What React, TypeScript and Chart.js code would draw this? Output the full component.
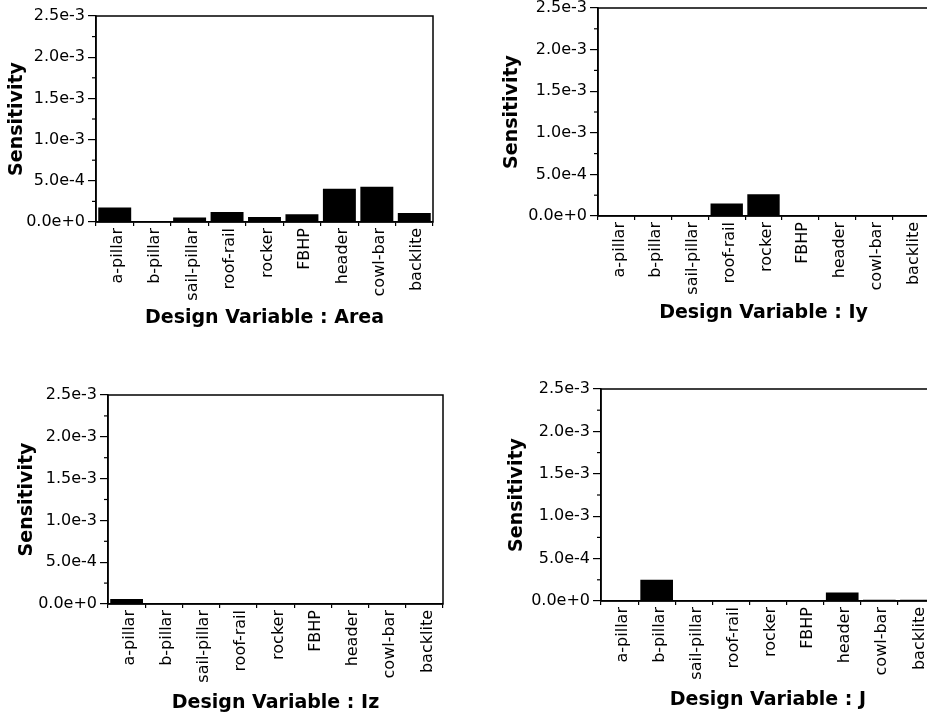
import React, { useEffect, useRef } from 'react';
import { Chart, registerables } from 'chart.js';

Chart.register(...registerables);

// ---- data ----
const categories = ['a-pillar', 'b-pillar', 'sail-pillar', 'roof-rail', 'rocker', 'FBHP', 'header', 'cowl-bar', 'backlite'];
const areaValues = [1.77e-4, 5e-6, 5.5e-5, 1.21e-4, 6.2e-5, 9.3e-5, 4.05e-4, 4.27e-4, 1.1e-4];
const iyValues = [0, 3e-6, 3e-6, 1.5e-4, 2.6e-4, 1e-5, 1e-5, 1e-5, 1.2e-5];
const izValues = [6e-5, 1e-5, 4e-6, 1e-5, 1.2e-5, 5e-6, 5e-6, 5e-6, 6e-6];
const jValues = [0, 2.5e-4, 4e-6, 4e-6, 1e-5, 6e-6, 1e-4, 1.5e-5, 1.5e-5];
const yMax = 2.5e-3;
const yStep = 5e-4;
const yMinorTicks = [2.5e-4, 7.5e-4, 1.25e-3, 1.75e-3, 2.25e-3];
const yTitle = 'Sensitivity';

const FONT = 'DejaVu Sans';
const TITLE_SIZE = 19;
const TICK_SIZE = 16;

type PanelCfg = {
  title: string;
  values: number[];
  L: number; T: number; R: number; B: number;
  yTitleX: number; xTitleY: number;
};

const panels: PanelCfg[] = [
  { title: 'Design Variable : Area', values: areaValues, L: 96, T: 16, R: 433, B: 222, yTitleX: 17, xTitleY: 318 },
  { title: 'Design Variable : Iy', values: iyValues, L: 598, T: 8, R: 929, B: 216, yTitleX: 512, xTitleY: 313 },
  { title: 'Design Variable : Iz', values: izValues, L: 108, T: 395, R: 443, B: 604, yTitleX: 27, xTitleY: 703 },
  { title: 'Design Variable : J', values: jValues, L: 601, T: 389, R: 935, B: 601, yTitleX: 517, xTitleY: 700 },
];

const framePlugin = {
  id: 'frame',
  afterDraw(chart: any) {
    const { ctx, chartArea: a, scales } = chart;
    ctx.save();
    ctx.strokeStyle = '#000';
    ctx.lineWidth = 1.5;
    ctx.strokeRect(a.left, a.top, a.right - a.left, a.bottom - a.top);
    const y = scales.y;
    ctx.lineWidth = 1.2;
    for (const v of yMinorTicks) {
      const py = y.getPixelForValue(v);
      ctx.beginPath();
      ctx.moveTo(a.left - 4, py);
      ctx.lineTo(a.left, py);
      ctx.stroke();
    }
    ctx.restore();
  },
};

function Panel({ p }: { p: PanelCfg }) {
  const ref = useRef<HTMLCanvasElement>(null);
  const half = (TITLE_SIZE * 1.2) / 2;
  const cx = p.L - 110;
  const cy = p.T - 30;
  const W = p.R + 30 - cx;
  const H = p.B + 140 - cy;
  const padLeft = p.yTitleX - half - cx;
  const yAxisW = p.L - cx - padLeft;
  const xAxisH = p.xTitleY + half - p.B;
  const padBottom = cy + H - (p.B + xAxisH);

  useEffect(() => {
    if (!ref.current) return;
    const chart = new Chart(ref.current, {
      type: 'bar',
      data: {
        labels: categories,
        datasets: [
          {
            data: p.values,
            backgroundColor: '#000',
            borderWidth: 0,
            barPercentage: 0.88,
            categoryPercentage: 1,
          },
        ],
      },
      options: {
        responsive: false,
        animation: false,
        devicePixelRatio: 1,
        layout: { padding: { left: padLeft, top: 30, right: 30, bottom: padBottom } },
        plugins: { legend: { display: false }, tooltip: { enabled: false } },
        scales: {
          x: {
            grid: { display: true, drawOnChartArea: false, drawTicks: true, tickLength: 4, offset: true, color: '#000', lineWidth: 1.2 },
            border: { display: true, color: '#000', width: 1.5 },
            ticks: {
              maxRotation: 90,
              minRotation: 90,
              autoSkip: false,
              padding: 2,
              labelOffset: 3,
              color: '#000',
              font: { family: FONT, size: TICK_SIZE },
            },
            title: {
              display: true,
              text: p.title,
              color: '#000',
              padding: 0,
              font: { family: FONT, size: TITLE_SIZE, weight: 'bold' },
            },
            afterFit: (s: any) => {
              s.height = xAxisH;
            },
          },
          y: {
            min: 0,
            max: yMax,
            grid: { drawOnChartArea: false, drawTicks: true, tickLength: 8, color: '#000', lineWidth: 1.2 },
            border: { display: true, color: '#000', width: 1.5 },
            ticks: {
              stepSize: yStep,
              padding: 3,
              color: '#000',
              font: { family: FONT, size: TICK_SIZE },
              callback: (v: any) => Number(v).toExponential(1),
            },
            title: {
              display: true,
              text: yTitle,
              color: '#000',
              padding: 0,
              font: { family: FONT, size: TITLE_SIZE, weight: 'bold' },
            },
            afterFit: (s: any) => {
              s.width = yAxisW;
            },
          },
        },
      } as any,
      plugins: [framePlugin],
    });
    return () => chart.destroy();
  }, []);

  return (
    <canvas
      ref={ref}
      width={W}
      height={H}
      style={{ position: 'absolute', left: cx, top: cy, width: W, height: H }}
    />
  );
}

export default function App() {
  return (
    <div
      style={{
        position: 'fixed',
        left: 0,
        top: 0,
        width: 927,
        height: 718,
        overflow: 'hidden',
        background: '#fff',
      }}
    >
      {panels.map((p, i) => (
        <Panel key={i} p={p} />
      ))}
    </div>
  );
}
